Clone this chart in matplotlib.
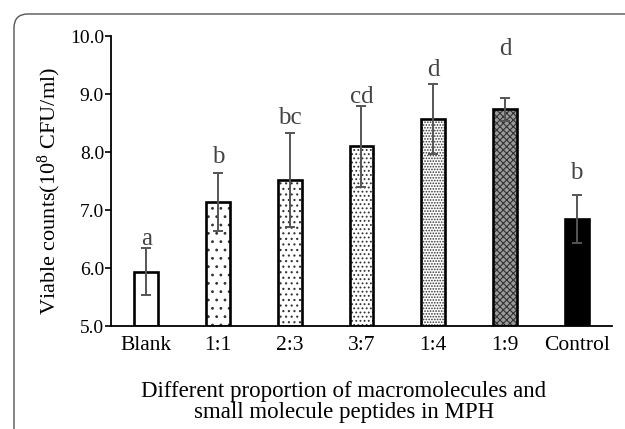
import matplotlib
matplotlib.use("Agg")
import matplotlib.pyplot as plt
from matplotlib.patches import FancyBboxPatch

categories = ["Blank", "1:1", "2:3", "3:7", "1:4", "1:9", "Control"]
values = [5.94, 7.13, 7.51, 8.10, 8.57, 8.74, 6.85]
errors = [0.40, 0.50, 0.81, 0.70, 0.61, 0.20, 0.41]
letters = ["a", "b", "bc", "cd", "d", "d", "b"]
letter_y = [6.50, 7.91, 8.58, 8.95, 9.41, 9.77, 7.64]
yticks = [5.0, 6.0, 7.0, 8.0, 9.0, 10.0]

hatches = [None, "..", "...", "....", "......", "xxxxx", None]
faces = ["white", "white", "white", "white", "white", "#9a9a9a", "black"]

plt.rcParams["font.family"] = ["Liberation Serif", "DejaVu Serif"]
plt.rcParams["mathtext.fontset"] = "custom"
plt.rcParams["mathtext.rm"] = "Liberation Serif"
plt.rcParams["mathtext.default"] = "regular"
plt.rcParams["hatch.linewidth"] = 0.8

fig = plt.figure(figsize=(6.25, 4.29), dpi=100)
ax = fig.add_axes([0.1776, 0.240, 0.8014, 0.676])

x = list(range(len(categories)))
w = 0.33
for i in x:
    if hatches[i]:
        ax.bar(i, values[i] - 5.0, bottom=5.0, width=w, color=faces[i],
               hatch=hatches[i], edgecolor="#333333", linewidth=0, zorder=2)
    else:
        ax.bar(i, values[i] - 5.0, bottom=5.0, width=w, color=faces[i],
               linewidth=0, zorder=2)
ax.bar(x, [v - 5.0 for v in values], bottom=5.0, width=w, fill=False,
       edgecolor="black", linewidth=1.9, zorder=3)
ax.errorbar(x, values, yerr=errors, fmt="none", ecolor="#555555",
            elinewidth=1.4, capsize=3.5, capthick=1.4, zorder=4)
for i in x:
    ax.text(i, letter_y[i], letters[i], ha="center", va="center",
            fontsize=18, color="#444444", zorder=5)

ax.set_xlim(-0.49, 6.49)
ax.set_ylim(5.0, 10.0)
ax.set_yticks(yticks)
ax.set_yticklabels([f"{t:.1f}" for t in yticks], fontsize=14)
ax.set_xticks(x)
ax.set_xticklabels(categories, fontsize=15.5)
ax.tick_params(axis="x", length=0, pad=7)
ax.tick_params(axis="y", direction="out", length=4, width=1.2, pad=1)
for s in ["top", "right"]:
    ax.spines[s].set_visible(False)
for s in ["left", "bottom"]:
    ax.spines[s].set_linewidth(1.3)

fig.text(0.079, 0.556, "Viable counts(10$^{8}$ CFU/ml)", rotation=90,
         ha="center", va="center", fontsize=16)
fig.text(0.55, 0.063, "Different proportion of macromolecules and\nsmall molecule peptides in MPH",
         ha="center", va="center", fontsize=16.5, linespacing=1.05)

frame = FancyBboxPatch((14, -40), 700, 455, boxstyle="round,pad=0,rounding_size=14",
                       transform=None, fill=False, edgecolor="#555555", linewidth=1.0)
fig.patches.append(frame)

fig.savefig("out.png", dpi=100)
